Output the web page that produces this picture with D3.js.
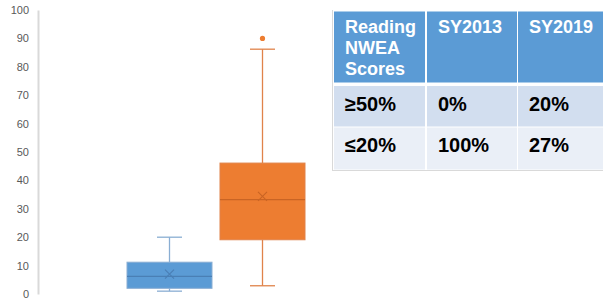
<!DOCTYPE html>
<html>
<head>
<meta charset="utf-8">
<script src="https://cdn.jsdelivr.net/npm/d3@7"></script>
<style>
  body { margin: 0; background: #fff; }
  svg { display: block; }
  .tick-label { font-family: "Liberation Sans", Arial, sans-serif; font-size: 11px; fill: #595959; }
  .tbl { font-family: "Liberation Sans", Arial, sans-serif; font-weight: bold; }
</style>
</head>
<body>
<svg id="chart" width="603" height="305"></svg>
<script>
// box plot series
const series = ["SY2013", "SY2019"];
const whiskerLow = [1.0, 2.9];
const q1 = [2.0, 19.1];
const median = [6.2, 33.2];
const q3 = [11.2, 46.1];
const whiskerHigh = [20.0, 86.2];
const means = [7.0, 34.4];
const outliers = [[], [90]];
const yTicks = [0, 10, 20, 30, 40, 50, 60, 70, 80, 90, 100];

// table next to the chart
const tableHeader = [["Reading", "NWEA", "Scores"], ["SY2013"], ["SY2019"]];
const tableRows = [
    ["≥50%", "0%", "20%"],
    ["≤20%", "100%", "27%"]
];

const fills = ["#5b9bd5", "#ed7d31"];
const lines = ["#8aaed3", "#e0834a"];
const darks = ["#4a7fb5", "#c96424"];

let svg = d3.select("#chart");

let y = d3.scaleLinear().domain([0, 100]).range([294, 10]);
let x = d3.scaleBand().domain(series).range([127, 305]).paddingInner(0.086).paddingOuter(0);

// y axis: light line, labels only
let yAxis = d3.axisLeft(y).tickValues(yTicks).tickSize(0).tickPadding(9);
let axisG = svg.append("g")
    .attr("transform", "translate(38,0)")
    .call(yAxis);
axisG.select(".domain").attr("stroke", "#d9d9d9").attr("stroke-width", 2);
axisG.selectAll(".tick text")
    .attr("class", "tick-label")
    .attr("font-family", null)
    .attr("font-size", null)
    .attr("fill", null);

let boxes = svg.append("g").selectAll("g.box")
    .data(series)
    .enter().append("g")
    .attr("class", "box");

boxes.each(function (s, i) {
    let g = d3.select(this);
    let x0 = x(s);
    let bw = x.bandwidth();
    let cx = x0 + bw / 2;
    let cap = 12.5;

    // whiskers
    g.append("line")
        .attr("x1", cx).attr("x2", cx)
        .attr("y1", y(whiskerHigh[i])).attr("y2", y(q3[i]))
        .attr("stroke", lines[i]).attr("stroke-width", 1.3);
    g.append("line")
        .attr("x1", cx).attr("x2", cx)
        .attr("y1", y(q1[i])).attr("y2", y(whiskerLow[i]))
        .attr("stroke", lines[i]).attr("stroke-width", 1.3);
    [whiskerHigh[i], whiskerLow[i]].forEach(v => {
        g.append("line")
            .attr("x1", cx - cap).attr("x2", cx + cap)
            .attr("y1", y(v)).attr("y2", y(v))
            .attr("stroke", lines[i]).attr("stroke-width", 1.3);
    });

    // box
    g.append("rect")
        .attr("x", x0)
        .attr("y", y(q3[i]))
        .attr("width", bw)
        .attr("height", y(q1[i]) - y(q3[i]))
        .attr("fill", fills[i])
        .attr("stroke", lines[i])
        .attr("stroke-width", 1);

    // median
    g.append("line")
        .attr("x1", x0).attr("x2", x0 + bw)
        .attr("y1", y(median[i])).attr("y2", y(median[i]))
        .attr("stroke", darks[i]).attr("stroke-width", 1.2);

    // mean marker
    let m = 4.5;
    let my = y(means[i]);
    g.append("path")
        .attr("d", `M${cx - m},${my - m}L${cx + m},${my + m}M${cx - m},${my + m}L${cx + m},${my - m}`)
        .attr("stroke", darks[i]).attr("stroke-width", 1.1).attr("fill", "none");

    // outliers
    g.selectAll("circle")
        .data(outliers[i])
        .enter().append("circle")
        .attr("cx", cx)
        .attr("cy", d => y(d))
        .attr("r", 2.6)
        .attr("fill", fills[i]);
});

// table
const colX = [334, 427, 518];
const colW = [91, 90, 90];
const rowY = [11.5, 86, 127.5];
const rowH = [71, 40.5, 42];
const rowFill = ["#5b9bd5", "#d2deef", "#eaeff7"];

let tbl = svg.append("g").attr("class", "tbl");

tbl.append("line")
    .attr("x1", 332.5).attr("x2", 332.5).attr("y1", 10).attr("y2", 171)
    .attr("stroke", "#d9d9d9").attr("stroke-width", 1);
tbl.append("line")
    .attr("x1", 332).attr("x2", 603).attr("y1", 170.5).attr("y2", 170.5)
    .attr("stroke", "#d9d9d9").attr("stroke-width", 1);

rowY.forEach((ry, r) => {
    colX.forEach((cx, c) => {
        tbl.append("rect")
            .attr("x", cx).attr("y", ry)
            .attr("width", colW[c]).attr("height", rowH[r])
            .attr("fill", rowFill[r]);
    });
});

tableHeader.forEach((linesTxt, c) => {
    let t = tbl.append("text")
        .attr("x", colX[c] + 11)
        .attr("y", 33.3)
        .attr("fill", "#ffffff")
        .attr("font-size", 18);
    linesTxt.forEach((ln, k) => {
        t.append("tspan")
            .attr("x", colX[c] + 11)
            .attr("y", 33.3 + k * 21)
            .text(ln);
    });
});

const bodyBase = [110.7, 151.7];
tableRows.forEach((row, r) => {
    row.forEach((val, c) => {
        tbl.append("text")
            .attr("x", colX[c] + 11)
            .attr("y", bodyBase[r])
            .attr("fill", "#000000")
            .attr("font-size", 20)
            .text(val);
    });
});
</script>
</body>
</html>
